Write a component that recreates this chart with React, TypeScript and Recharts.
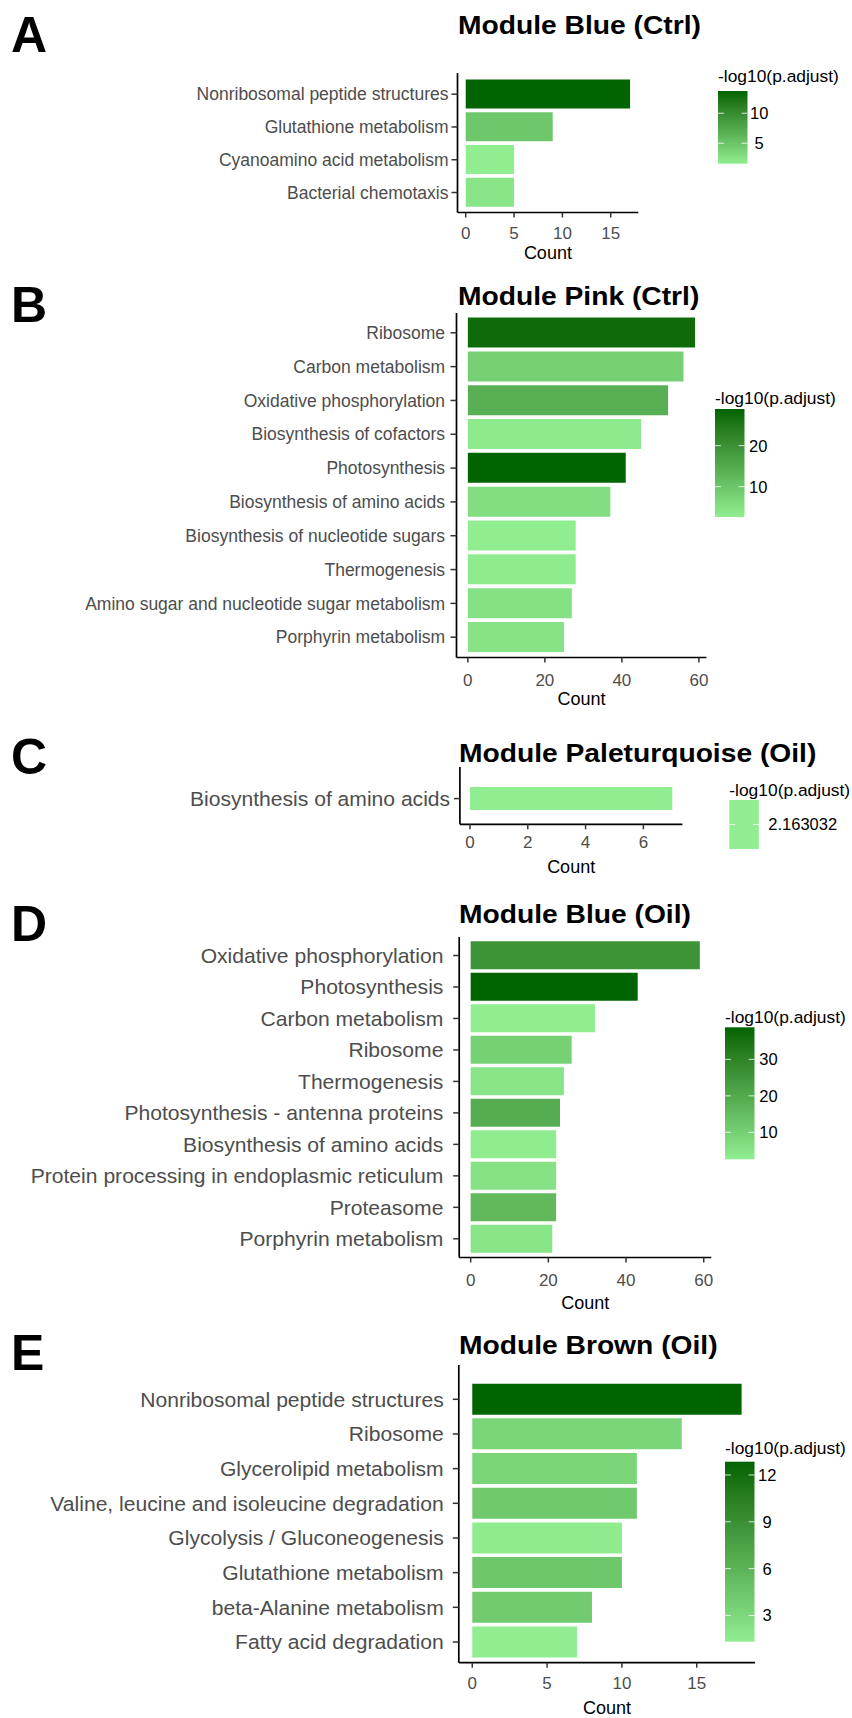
import React from 'react';
import { BarChart, Bar, XAxis, YAxis, Cell } from 'recharts';

const FONT = '"Liberation Sans", Arial, Helvetica, sans-serif';
const LOW = '#90EE90';
const HIGH = '#006400';

// A  Module Blue (Ctrl)
const termsA = ['Nonribosomal peptide structures', 'Glutathione metabolism', 'Cyanoamino acid metabolism', 'Bacterial chemotaxis'];
const countsA = [17, 9, 5, 5];
const scoresA = [13.7, 4.8, 1.6, 2.3];
const countTicksA = [0, 5, 10, 15];
const legendTicksA = [5, 10];

// B  Module Pink (Ctrl)
const termsB = [
  'Ribosome', 'Carbon metabolism', 'Oxidative phosphorylation', 'Biosynthesis of cofactors', 'Photosynthesis',
  'Biosynthesis of amino acids', 'Biosynthesis of nucleotide sugars', 'Thermogenesis',
  'Amino sugar and nucleotide sugar metabolism', 'Porphyrin metabolism',
];
const countsB = [59, 56, 52, 45, 41, 37, 28, 28, 27, 25];
const scoresB = [27.5, 8.0, 14.0, 3.2, 28.95, 5.5, 2.6, 3.0, 4.8, 4.5];
const countTicksB = [0, 20, 40, 60];
const legendTicksB = [10, 20];

// C  Module Paleturquoise (Oil)
const termsC = ['Biosynthesis of amino acids'];
const countsC = [7];
const scoresC = [2.163032];
const countTicksC = [0, 2, 4, 6];
const legendTicksC = [2.163032];

// D  Module Blue (Oil)
const termsD = [
  'Oxidative phosphorylation', 'Photosynthesis', 'Carbon metabolism', 'Ribosome', 'Thermogenesis',
  'Photosynthesis - antenna proteins', 'Biosynthesis of amino acids',
  'Protein processing in endoplasmic reticulum', 'Proteasome', 'Porphyrin metabolism',
];
const countsD = [59, 43, 32, 26, 24, 23, 22, 22, 22, 21];
const scoresD = [26, 38.8, 2.6, 9.8, 5, 19, 2.9, 5.5, 16, 5];
const countTicksD = [0, 20, 40, 60];
const legendTicksD = [10, 20, 30];

// E  Module Brown (Oil)
const termsE = [
  'Nonribosomal peptide structures', 'Ribosome', 'Glycerolipid metabolism',
  'Valine, leucine and isoleucine degradation', 'Glycolysis / Gluconeogenesis', 'Glutathione metabolism',
  'beta-Alanine metabolism', 'Fatty acid degradation',
];
const countsE = [18, 14, 11, 11, 10, 10, 8, 7];
const scoresE = [12.85, 3.2, 3.3, 4.2, 1.5, 4.4, 4.0, 1.32];
const countTicksE = [0, 5, 10, 15];
const legendTicksE = [3, 6, 9, 12];

// colour ramp in Lab space, like ggplot's gradient
const toLin = (c: number) => {
  const v = c / 255;
  return v <= 0.04045 ? v / 12.92 : Math.pow((v + 0.055) / 1.055, 2.4);
};
const fromLin = (c: number) => {
  const v = c <= 0.0031308 ? 12.92 * c : 1.055 * Math.pow(c, 1 / 2.4) - 0.055;
  return Math.max(0, Math.min(255, Math.round(v * 255)));
};
function hexLab(hex: string) {
  const r = toLin(parseInt(hex.slice(1, 3), 16));
  const g = toLin(parseInt(hex.slice(3, 5), 16));
  const b = toLin(parseInt(hex.slice(5, 7), 16));
  const X = (0.4124 * r + 0.3576 * g + 0.1805 * b) / 0.95047;
  const Y = 0.2126 * r + 0.7152 * g + 0.0722 * b;
  const Z = (0.0193 * r + 0.1192 * g + 0.9505 * b) / 1.08883;
  const f = (t: number) => (t > 0.008856 ? Math.cbrt(t) : 7.787 * t + 16 / 116);
  const fx = f(X), fy = f(Y), fz = f(Z);
  return [116 * fy - 16, 500 * (fx - fy), 200 * (fy - fz)];
}
function labHex([L, a, bb]: number[]) {
  const fy = (L + 16) / 116;
  const fx = fy + a / 500;
  const fz = fy - bb / 200;
  const inv = (t: number) => (t * t * t > 0.008856 ? t * t * t : (t - 16 / 116) / 7.787);
  const X = inv(fx) * 0.95047, Y = inv(fy), Z = inv(fz) * 1.08883;
  const r = 3.2406 * X - 1.5372 * Y - 0.4986 * Z;
  const g = -0.9689 * X + 1.8758 * Y + 0.0415 * Z;
  const b = 0.0557 * X - 0.204 * Y + 1.057 * Z;
  return '#' + [r, g, b].map((c) => fromLin(c).toString(16).padStart(2, '0')).join('');
}
const LAB_LO = hexLab(LOW);
const LAB_HI = hexLab(HIGH);
function colour(v: number, lo: number, hi: number) {
  const t = hi === lo ? 0 : (v - lo) / (hi - lo);
  return labHex(LAB_LO.map((c, i) => c + t * (LAB_HI[i] - c)));
}

type Spec = {
  letter: string; letterBase: number;
  title: string; titleX: number; titleBase: number;
  terms: string[]; counts: number[]; scores: number[]; xTicks: number[]; legTicks: number[];
  plotLeft: number; plotRight: number; plotTop: number; plotBottom: number;
  firstCenter: number; lastCenter: number; band?: number;
  yFont: number; yTickMargin: number; xTickMargin: number; countY: number;
  legX: number; legTitleY: number; legTop: number; legBottom: number; legLabelX: number;
};

const panels: Spec[] = [
  {
    letter: 'A', letterBase: 51.7, title: 'Module Blue (Ctrl)', titleX: 458, titleBase: 34,
    terms: termsA, counts: countsA, scores: scoresA, xTicks: countTicksA, legTicks: legendTicksA,
    plotLeft: 457.5, plotRight: 638.3, plotTop: 73, plotBottom: 212.5,
    firstCenter: 94.2, lastCenter: 192.5,
    yFont: 17.5, yTickMargin: 3, xTickMargin: 9.2, countY: 252.7,
    legX: 718, legTitleY: 76, legTop: 91, legBottom: 163.7, legLabelX: 750,
  },
  {
    letter: 'B', letterBase: 321.7, title: 'Module Pink (Ctrl)', titleX: 458, titleBase: 305,
    terms: termsB, counts: countsB, scores: scoresB, xTicks: countTicksB, legTicks: legendTicksB,
    plotLeft: 456.5, plotRight: 706.4, plotTop: 312.5, plotBottom: 657,
    firstCenter: 332.3, lastCenter: 636.7,
    yFont: 17.5, yTickMargin: 5.4, xTickMargin: 11.3, countY: 698.5,
    legX: 715, legTitleY: 397.3, legTop: 409, legBottom: 517, legLabelX: 749,
  },
  {
    letter: 'C', letterBase: 774, title: 'Module Paleturquoise (Oil)', titleX: 459, titleBase: 762,
    terms: termsC, counts: countsC, scores: scoresC, xTicks: countTicksC, legTicks: legendTicksC,
    plotLeft: 459.9, plotRight: 682.4, plotTop: 766.7, plotBottom: 824,
    firstCenter: 798.3, lastCenter: 798.3, band: 26,
    yFont: 21.1, yTickMargin: 3.8, xTickMargin: 6.7, countY: 866.7,
    legX: 729.3, legTitleY: 790, legTop: 800, legBottom: 849, legLabelX: 768.3,
  },
  {
    letter: 'D', letterBase: 940.7, title: 'Module Blue (Oil)', titleX: 459, titleBase: 923,
    terms: termsD, counts: countsD, scores: scoresD, xTicks: countTicksD, legTicks: legendTicksD,
    plotLeft: 459.2, plotRight: 711.3, plotTop: 937, plotBottom: 1257.5,
    firstCenter: 955.5, lastCenter: 1238.8,
    yFont: 21.1, yTickMargin: 9.8, xTickMargin: 11.5, countY: 1303,
    legX: 725, legTitleY: 1016.7, legTop: 1027.3, legBottom: 1159.3, legLabelX: 759.3,
  },
  {
    letter: 'E', letterBase: 1370, title: 'Module Brown (Oil)', titleX: 459, titleBase: 1353.5,
    terms: termsE, counts: countsE, scores: scoresE, xTicks: countTicksE, legTicks: legendTicksE,
    plotLeft: 458.8, plotRight: 755.1, plotTop: 1365, plotBottom: 1662.7,
    firstCenter: 1399.3, lastCenter: 1642,
    yFont: 21.1, yTickMargin: 9.1, xTickMargin: 9, countY: 1707.5,
    legX: 725, legTitleY: 1448, legTop: 1461.7, legBottom: 1641.7, legLabelX: 758,
  },
];

const M_TOP = 10;
const AXIS_H = 60;
const TICK_FONT = 17;

function Panel({ p }: { p: Spec }) {
  const rows = p.terms.map((term, i) => ({ term, count: p.counts[i], score: p.scores[i] }));
  const lo = Math.min(...p.scores);
  const hi = Math.max(...p.scores);
  const n = rows.length;
  const band = n > 1 ? (p.lastCenter - p.firstCenter) / (n - 1) : (p.band as number);
  const padTop = p.firstCenter - band / 2 - p.plotTop;
  const padBottom = p.plotBottom - (p.lastCenter + band / 2);
  const maxC = Math.max(...p.counts);
  const h = M_TOP + (p.plotBottom - p.plotTop) + AXIS_H;
  return (
    <div style={{ position: 'absolute', left: 0, top: p.plotTop - M_TOP }}>
      <BarChart
        width={852}
        height={h}
        data={rows}
        layout="vertical"
        barCategoryGap="5%"
        margin={{ top: M_TOP, right: 852 - p.plotRight, bottom: 0, left: 0 }}
      >
        <XAxis
          type="number"
          domain={[-0.05 * maxC, 1.05 * maxC]}
          allowDataOverflow
          ticks={p.xTicks}
          height={AXIS_H}
          axisLine={{ stroke: '#000', strokeWidth: 1.7 }}
          tickLine={{ stroke: '#333', strokeWidth: 1.5 }}
          tickSize={5}
          tickMargin={p.xTickMargin}
          tick={{ fontSize: TICK_FONT, fill: '#4D4D4D', fontFamily: FONT }}
        />
        <YAxis
          type="category"
          dataKey="term"
          width={p.plotLeft}
          interval={0}
          padding={{ top: padTop, bottom: padBottom }}
          axisLine={{ stroke: '#000', strokeWidth: 1.7 }}
          tickLine={{ stroke: '#333', strokeWidth: 1.5 }}
          tickSize={6}
          tickMargin={p.yTickMargin}
          tick={{ fontSize: p.yFont, fill: '#4D4D4D', fontFamily: FONT }}
        />
        <Bar dataKey="count" isAnimationActive={false}>
          {rows.map((r, i) => (
            <Cell key={i} fill={colour(r.score, lo, hi)} />
          ))}
        </Bar>
      </BarChart>
    </div>
  );
}

function Overlay({ p, idx }: { p: Spec; idx: number }) {
  const lo = Math.min(...p.scores);
  const hi = Math.max(...p.scores);
  const w = 29.5;
  const yOf = (v: number) =>
    hi === lo ? (p.legTop + p.legBottom) / 2 : p.legBottom - ((v - lo) / (hi - lo)) * (p.legBottom - p.legTop);
  const labels = p.legTicks.map((t) => String(t));
  const longest = Math.max(...labels.map((s) => s.length));
  const stops = Array.from({ length: 21 }, (_, k) => k / 20);
  const cx = (p.plotLeft + p.plotRight) / 2;
  return (
    <g fontFamily={FONT}>
      <text x={11} y={p.letterBase} fontSize={50} fontWeight="bold" fill="#000">{p.letter}</text>
      <text transform={`translate(${p.titleX},${p.titleBase}) scale(1.065,1)`} fontSize={26.5} fontWeight="bold" fill="#000">
        {p.title}
      </text>
      <text x={cx} y={p.countY + 6.4} fontSize={18} textAnchor="middle" fill="#000">Count</text>
      <text x={p.legX} y={p.legTitleY + 6.2} fontSize={17.4} fill="#000">-log10(p.adjust)</text>
      <defs>
        <linearGradient id={`bar${idx}`} x1="0" y1="0" x2="0" y2="1">
          {stops.map((s) => (
            <stop key={s} offset={s} stopColor={colour(hi - s * (hi - lo), lo, hi)} />
          ))}
        </linearGradient>
      </defs>
      <rect x={p.legX} y={p.legTop} width={w} height={p.legBottom - p.legTop} fill={`url(#bar${idx})`} />
      {p.legTicks.map((t, i) => (
        <g key={t}>
          <line x1={p.legX} x2={p.legX + w / 5} y1={yOf(t)} y2={yOf(t)} stroke="#fff" strokeOpacity={0.8} />
          <line x1={p.legX + w - w / 5} x2={p.legX + w} y1={yOf(t)} y2={yOf(t)} stroke="#fff" strokeOpacity={0.8} />
          <text x={p.legLabelX} y={yOf(t) + 5.9} fontSize={16.5} fill="#000" style={{ whiteSpace: 'pre' }}>
            {labels[i].padStart(longest, ' ')}
          </text>
        </g>
      ))}
    </g>
  );
}

export default function App() {
  return (
    <div style={{ position: 'absolute', left: 0, top: 0, width: 852, height: 1718, background: '#fff', overflow: 'hidden' }}>
      {panels.map((p) => (
        <Panel key={p.letter} p={p} />
      ))}
      <svg width={852} height={1718} style={{ position: 'absolute', left: 0, top: 0, pointerEvents: 'none' }}>
        {panels.map((p, i) => (
          <Overlay key={p.letter} p={p} idx={i} />
        ))}
      </svg>
    </div>
  );
}
